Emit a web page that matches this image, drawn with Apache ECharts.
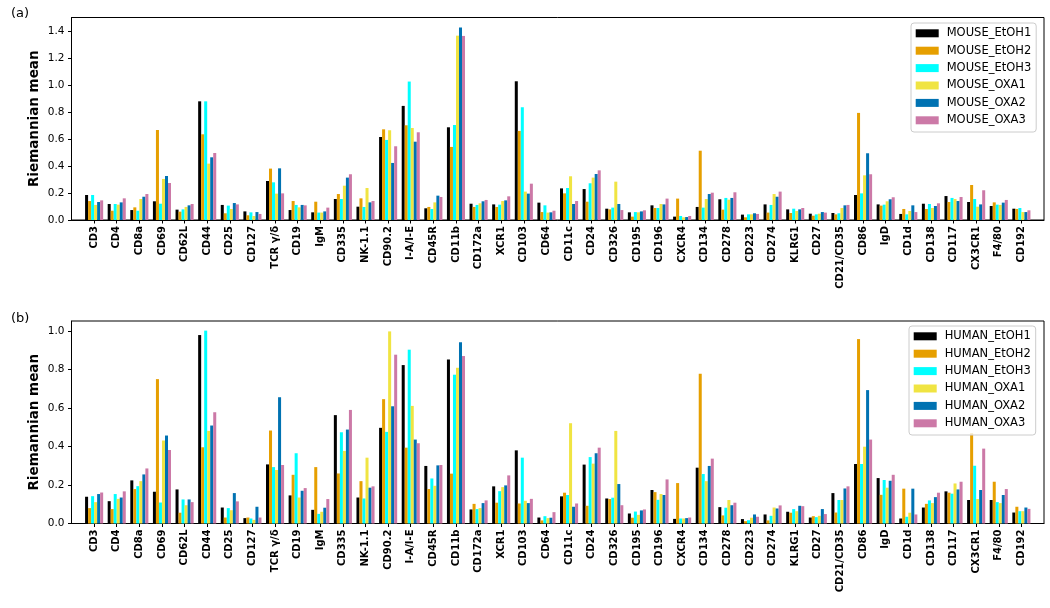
<!DOCTYPE html>
<html><head><meta charset="utf-8">
<script src="https://cdn.jsdelivr.net/npm/echarts@6/dist/echarts.min.js"></script>
<style>html,body{margin:0;padding:0;background:#fff}#c{width:1050px;height:608px}</style>
</head><body><div id="c"></div>
<script>
const categories = ['CD3','CD4','CD8a','CD69','CD62L','CD44','CD25','CD127','TCR γ/δ','CD19','IgM','CD335','NK-1.1','CD90.2','I-A/I-E','CD45R','CD11b','CD172a','XCR1','CD103','CD64','CD11c','CD24','CD326','CD195','CD196','CXCR4','CD134','CD278','CD223','CD274','KLRG1','CD27','CD21/CD35','CD86','IgD','CD1d','CD138','CD117','CX3CR1','F4/80','CD192'];
const mouseNames = ['MOUSE_EtOH1','MOUSE_EtOH2','MOUSE_EtOH3','MOUSE_OXA1','MOUSE_OXA2','MOUSE_OXA3'];
const humanNames = ['HUMAN_EtOH1','HUMAN_EtOH2','HUMAN_EtOH3','HUMAN_OXA1','HUMAN_OXA2','HUMAN_OXA3'];
const colors = ['#000000','#E69F00','#00FFFF','#F0E442','#0072B2','#CC79A7'];

const mouseEtOH1 = [0.186,0.119,0.074,0.139,0.077,0.882,0.112,0.064,0.290,0.074,0.057,0.156,0.099,0.617,0.848,0.087,0.689,0.121,0.116,1.031,0.129,0.235,0.230,0.084,0.057,0.109,0.025,0.097,0.154,0.040,0.116,0.079,0.047,0.052,0.186,0.116,0.045,0.121,0.178,0.134,0.104,0.084];
const mouseEtOH2 = [0.141,0.069,0.094,0.669,0.062,0.637,0.050,0.035,0.382,0.141,0.136,0.193,0.161,0.674,0.704,0.097,0.543,0.097,0.097,0.662,0.059,0.198,0.136,0.079,0.025,0.089,0.159,0.515,0.077,0.020,0.055,0.052,0.032,0.042,0.796,0.107,0.082,0.082,0.134,0.260,0.131,0.082];
const mouseEtOH3 = [0.186,0.119,0.069,0.121,0.079,0.882,0.107,0.057,0.280,0.112,0.055,0.156,0.097,0.595,1.029,0.082,0.706,0.112,0.114,0.838,0.109,0.238,0.273,0.092,0.059,0.089,0.030,0.092,0.164,0.042,0.112,0.084,0.042,0.050,0.198,0.114,0.042,0.119,0.164,0.156,0.114,0.089];
const mouseOXA1  = [0.112,0.114,0.156,0.305,0.097,0.419,0.082,0.030,0.196,0.094,0.055,0.255,0.238,0.667,0.684,0.131,1.370,0.124,0.141,0.211,0.055,0.325,0.315,0.285,0.057,0.119,0.020,0.156,0.151,0.042,0.193,0.067,0.047,0.089,0.332,0.139,0.067,0.089,0.156,0.099,0.112,0.059];
const mouseOXA2  = [0.134,0.131,0.173,0.327,0.109,0.466,0.126,0.059,0.384,0.112,0.064,0.315,0.131,0.424,0.582,0.181,1.430,0.139,0.146,0.196,0.057,0.119,0.342,0.119,0.064,0.116,0.022,0.193,0.164,0.050,0.173,0.079,0.059,0.109,0.496,0.154,0.109,0.104,0.141,0.116,0.129,0.059];
const mouseOXA3  = [0.146,0.161,0.193,0.275,0.119,0.498,0.116,0.045,0.198,0.109,0.092,0.340,0.141,0.548,0.652,0.171,1.368,0.149,0.176,0.270,0.069,0.141,0.369,0.074,0.072,0.159,0.030,0.203,0.206,0.045,0.211,0.089,0.055,0.112,0.340,0.169,0.059,0.124,0.171,0.221,0.149,0.072];

const humanEtOH1 = [0.139,0.116,0.224,0.165,0.177,0.979,0.083,0.028,0.307,0.146,0.071,0.563,0.135,0.497,0.823,0.299,0.852,0.073,0.193,0.380,0.031,0.141,0.306,0.130,0.052,0.174,0.024,0.290,0.085,0.023,0.047,0.061,0.031,0.158,0.309,0.236,0.026,0.083,0.167,0.122,0.122,0.057];
const humanEtOH2 = [0.080,0.075,0.179,0.750,0.056,0.396,0.031,0.031,0.483,0.253,0.293,0.260,0.220,0.646,0.394,0.179,0.259,0.102,0.108,0.104,0.016,0.160,0.092,0.127,0.030,0.163,0.210,0.778,0.042,0.012,0.016,0.056,0.038,0.057,0.958,0.149,0.181,0.102,0.160,0.470,0.217,0.087];
const humanEtOH3 = [0.142,0.153,0.194,0.109,0.125,1.002,0.080,0.026,0.293,0.365,0.050,0.474,0.130,0.476,0.903,0.234,0.773,0.075,0.168,0.342,0.038,0.148,0.345,0.134,0.062,0.123,0.026,0.257,0.082,0.017,0.040,0.075,0.033,0.122,0.309,0.226,0.035,0.120,0.155,0.300,0.111,0.064];
const humanOXA1  = [0.111,0.128,0.220,0.431,0.095,0.481,0.069,0.019,0.278,0.135,0.061,0.377,0.342,0.998,0.611,0.196,0.809,0.080,0.189,0.118,0.028,0.521,0.311,0.481,0.045,0.153,0.026,0.220,0.122,0.030,0.083,0.064,0.040,0.122,0.399,0.186,0.056,0.106,0.208,0.127,0.106,0.064];
const humanOXA2  = [0.153,0.135,0.255,0.457,0.125,0.509,0.158,0.087,0.656,0.170,0.082,0.488,0.186,0.609,0.436,0.302,0.941,0.106,0.198,0.106,0.030,0.087,0.365,0.205,0.068,0.148,0.028,0.299,0.095,0.047,0.078,0.092,0.075,0.182,0.693,0.222,0.181,0.137,0.177,0.174,0.148,0.083];
const humanOXA3  = [0.161,0.167,0.286,0.382,0.111,0.578,0.115,0.031,0.304,0.184,0.127,0.590,0.193,0.877,0.417,0.304,0.870,0.120,0.250,0.128,0.059,0.104,0.394,0.095,0.073,0.229,0.031,0.337,0.108,0.035,0.094,0.090,0.049,0.193,0.436,0.253,0.047,0.160,0.217,0.389,0.179,0.076];

const yTicksA = [0, 0.2, 0.4, 0.6, 0.8, 1.0, 1.2, 1.4];
const yTicksB = [0, 0.2, 0.4, 0.6, 0.8, 1.0];
const yMaxA = 1.505, yMaxB = 1.052;
const yName = 'Riemannian mean';

const mouseSeries = [mouseEtOH1, mouseEtOH2, mouseEtOH3, mouseOXA1, mouseOXA2, mouseOXA3];
const humanSeries = [humanEtOH1, humanEtOH2, humanEtOH3, humanOXA1, humanOXA2, humanOXA3];

const FONT = 'DejaVu Sans';
const padCats = [' '].concat(categories, ['  ']);
const pad = arr => [null].concat(arr, [null]);

function xAxis(gi) {
  return {
    type: 'category', gridIndex: gi, data: padCats, boundaryGap: false,
    axisLine: { show: true, lineStyle: { color: '#000', width: 1 } },
    axisTick: { show: true, length: 3.5, lineStyle: { color: '#000', width: 1 },
      interval: (i) => i > 0 && i <= categories.length },
    axisLabel: { interval: 0, rotate: 90, margin: 6, fontFamily: FONT, fontWeight: 'bold', fontSize: 10, color: '#000' },
    splitLine: { show: false }
  };
}
function yAxis(gi, max, ticks) {
  return {
    type: 'value', gridIndex: gi, min: 0, max: max,
    name: yName, nameLocation: 'middle', nameGap: 30, nameMoveOverlap: false,
    nameTextStyle: { fontFamily: FONT, fontWeight: 'bold', fontSize: 13.5, color: '#000' },
    axisLine: { show: true, lineStyle: { color: '#000', width: 1 } },
    axisTick: { show: true, length: 3.5, lineStyle: { color: '#000', width: 1 }, customValues: ticks },
    axisLabel: { customValues: ticks, formatter: v => v.toFixed(1), margin: 7, fontFamily: FONT, fontSize: 10.5, color: '#000' },
    splitLine: { show: false }
  };
}
function legend(names, top, left) {
  return {
    data: names, orient: 'vertical', left: left, top: top,
    itemWidth: 23, itemHeight: 8, itemGap: 3.4, icon: 'rect',
    padding: [3.3, 5, 4.7, 4.7],
    textStyle: { fontFamily: FONT, fontSize: 11.5, lineHeight: 14, color: '#000', padding: [0, 0, 0, 3] },
    backgroundColor: 'rgba(255,255,255,0.8)', borderColor: '#cccccc', borderWidth: 1, borderRadius: 3,
    selectedMode: false
  };
}
const series = [];
mouseSeries.forEach((d, i) => series.push({
  name: mouseNames[i], type: 'bar', xAxisIndex: 0, yAxisIndex: 0, data: pad(d),
  barWidth: '13.33%', barGap: '0%', itemStyle: { color: colors[i] }, animation: false
}));
humanSeries.forEach((d, i) => series.push({
  name: humanNames[i], type: 'bar', xAxisIndex: 1, yAxisIndex: 1, data: pad(d),
  barWidth: '13.33%', barGap: '0%', itemStyle: { color: colors[i] }, animation: false
}));

const chart = echarts.init(document.getElementById('c'), null, { renderer: 'canvas' });
chart.setOption({
  animation: false,
  backgroundColor: '#ffffff',
  title: [
    { text: '(a)', left: 6, top: 2, textStyle: { fontFamily: FONT, fontSize: 13, fontWeight: 'normal', color: '#000' } },
    { text: '(b)', left: 6, top: 307, textStyle: { fontFamily: FONT, fontSize: 13, fontWeight: 'normal', color: '#000' } }
  ],
  grid: [
    { left: 71.5, top: 17.5, width: 972.5, height: 202.5, show: true, borderColor: '#000', borderWidth: 1, backgroundColor: 'transparent', containLabel: false, outerBoundsMode: 'none' },
    { left: 71.5, top: 321, width: 972.5, height: 202.5, show: true, borderColor: '#000', borderWidth: 1, backgroundColor: 'transparent', containLabel: false, outerBoundsMode: 'none' }
  ],
  xAxis: [xAxis(0), xAxis(1)],
  yAxis: [yAxis(0, yMaxA, yTicksA), yAxis(1, yMaxB, yTicksB)],
  legend: [legend(mouseNames, 23, 911), legend(humanNames, 326, 909)],
  series: series
});
</script></body></html>
